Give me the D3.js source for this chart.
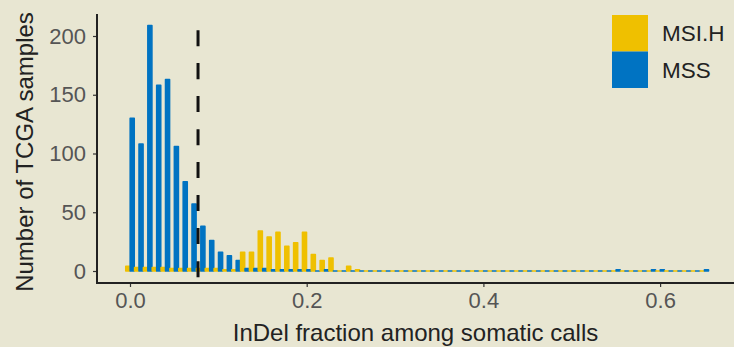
<!DOCTYPE html>
<html>
<head>
<meta charset="utf-8">
<script src="https://cdn.jsdelivr.net/npm/d3@7/dist/d3.min.js"></script>
<style>
html,body{margin:0;padding:0;background:#e8e6d2;}
svg{display:block;}
text{font-family:"Liberation Sans",Arial,Helvetica,sans-serif;}
</style>
</head>
<body>
<svg id="chart" width="734" height="347"></svg>
<script>
// ---- data ----
const binCenters = [0.00,0.01,0.02,0.03,0.04,0.05,0.06,0.07,0.08,0.09,
  0.10,0.11,0.12,0.13,0.14,0.15,0.16,0.17,0.18,0.19,
  0.20,0.21,0.22,0.23,0.24,0.25,0.26,0.27,0.28,0.29,
  0.30,0.31,0.32,0.33,0.34,0.35,0.36,0.37,0.38,0.39,
  0.40,0.41,0.42,0.43,0.44,0.45,0.46,0.47,0.48,0.49,
  0.50,0.51,0.52,0.53,0.54,0.55,0.56,0.57,0.58,0.59,
  0.60,0.61,0.62,0.63,0.64,0.65];
const mssCounts = [130,108,209,158,163,106,76,57,38,26,
  16,13,9,2,2,2,1,1,1,1,
  1,0,1,0,0,0,0,0,0,0,
  0,0,0,0,0,0,0,0,0,0,
  0,0,0,0,0,0,0,0,0,0,
  0,0,0,0,0,1,0,0,0,1,
  1,0,0,0,0,1];
const msiCounts = [4,3,3,3,3,2,2,2,2,2,
  2,1,1,16,16,34,29,33,21,24,
  33,14,9,11,0,4,1,0,0,0,
  0,0,0,0,0,0,0,0,0,0,
  0,0,0,0,0,0,0,0,0,0,
  0,0,0,0,0,0,0,0,0,0,
  0,0,0,0,0,0];
const groups = ["MSI.H","MSS"];
const groupColors = ["#EFC000","#0073C2"];
const threshold = 0.077;
const xTicks = [0.0,0.2,0.4,0.6];
const yTicks = [0,50,100,150,200];
const binWidth = 0.01;
const xTitle = "InDel fraction among somatic calls";
const yTitle = "Number of TCGA samples";

// ---- layout ----
const svg = d3.select("#chart");
const W = 734, H = 347;
const panel = {left:97, right:734, top:14, bottom:283};
svg.append("rect").attr("width",W).attr("height",H).attr("fill","#e8e6d2");

const x = d3.scaleLinear().domain([0,0.6]).range([130,660.1]);
const y = d3.scaleLinear().domain([0,200]).range([271,36]);
const color = d3.scaleOrdinal().domain(groups).range(groupColors);

// bars (dodged: MSI.H left half, MSS right half)
const bars = [];
binCenters.forEach((c,i)=>{
  bars.push({g:"MSI.H", x0:c-binWidth/2, x1:c, v:msiCounts[i]});
  bars.push({g:"MSS", x0:c, x1:c+binWidth/2, v:mssCounts[i]});
});
svg.append("g").selectAll("path").data(bars).join("path")
  .attr("d",d=>{
    const a=x(d.x0)+0.2,b=x(d.x1)-0.2,t=y(d.v),z=y(0);
    return `M${a},${z}V${t}H${b}V${z}Z`;
  })
  .attr("fill",d=>color(d.g))
  .attr("stroke",d=>color(d.g))
  .attr("stroke-width",1.6)
  .attr("stroke-linejoin","round");

// threshold line
svg.append("line")
  .attr("x1",x(threshold)).attr("x2",x(threshold))
  .attr("y1",y(205)).attr("y2",panel.bottom)
  .attr("stroke","#111").attr("stroke-width",3)
  .attr("stroke-dasharray","16,17");

// axes
const yAxis = d3.axisLeft(y).tickValues(yTicks).tickSize(4).tickSizeOuter(0).tickPadding(7);
const gy = svg.append("g").attr("transform",`translate(${panel.left},0)`).call(yAxis);
gy.select(".domain").remove();
gy.append("line").attr("x1",0).attr("x2",0).attr("y1",panel.top).attr("y2",panel.bottom+1)
  .attr("stroke","#222").attr("stroke-width",2);
gy.selectAll(".tick line").attr("stroke","#333").attr("stroke-width",1.2);
gy.selectAll(".tick text").attr("font-size",22).attr("fill","#555")
  .style("font-family","'Liberation Sans',Arial,sans-serif");

const xAxis = d3.axisBottom(x).tickValues(xTicks).tickFormat(d3.format(".1f")).tickSize(4).tickSizeOuter(0).tickPadding(5);
const gx = svg.append("g").attr("transform",`translate(0,${panel.bottom})`).call(xAxis);
gx.select(".domain").remove();
gx.append("line").attr("x1",panel.left-1).attr("x2",panel.right).attr("y1",0).attr("y2",0)
  .attr("stroke","#222").attr("stroke-width",2);
gx.selectAll(".tick line").attr("stroke","#333").attr("stroke-width",1.2);
gx.selectAll(".tick text").attr("font-size",22).attr("fill","#555")
  .style("font-family","'Liberation Sans',Arial,sans-serif");

// titles
svg.append("text").attr("x",(233+598)/2).attr("y",341).attr("text-anchor","middle")
  .attr("font-size",24).attr("fill","#222").text(xTitle);
svg.append("text").attr("transform","translate(33,152) rotate(-90)").attr("text-anchor","middle")
  .attr("font-size",24).attr("fill","#222").text(yTitle);

// legend
const lg = svg.append("g");
groups.forEach((g,i)=>{
  lg.append("rect").attr("x",612).attr("y",15+i*36.5).attr("width",36).attr("height",36.5)
    .attr("fill",color(g));
  lg.append("text").attr("x",662).attr("y",15+i*36.5+18.25).attr("dy","0.35em")
    .attr("font-size",22.5).attr("fill","#222").text(g);
});
</script>
</body>
</html>
